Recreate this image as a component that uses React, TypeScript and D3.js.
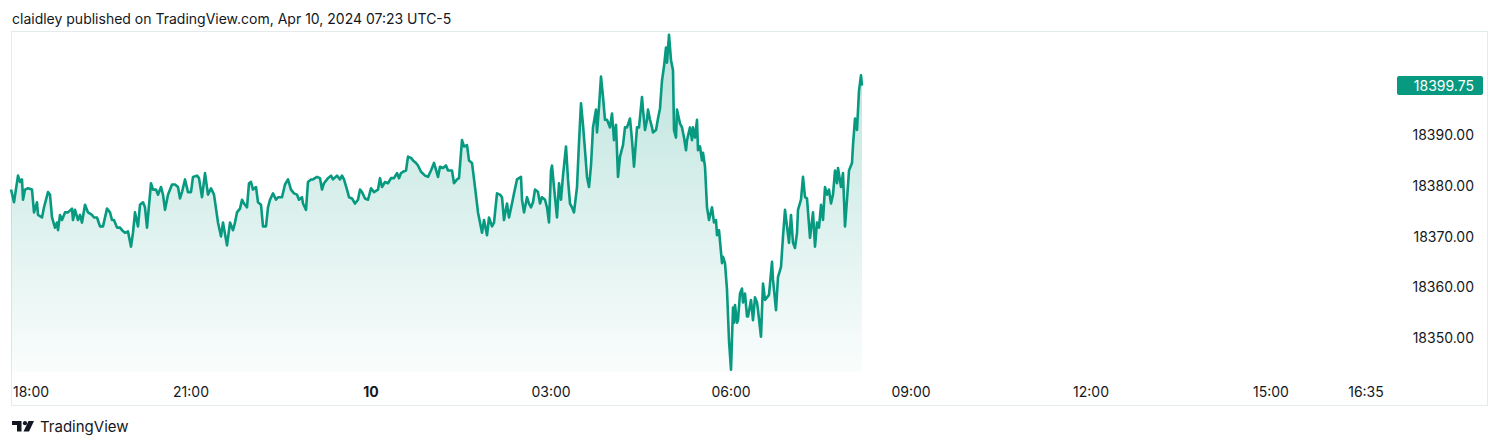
import { useEffect, useRef } from "react";
import * as d3 from "d3";

// [minutes after 18:00 Apr 9, price]
const nqPoints: [number, number][] = [
  [0, 18379.25], [3, 18376.75], [7, 18382.0], [9, 18380.75], [11, 18381.25], [12, 18377.25], [14, 18379.25],
  [17, 18379.5], [21, 18379.25], [23, 18374.75], [26, 18376.75], [27, 18374.25], [31, 18373.75], [33, 18375.75],
  [37, 18378.75], [39, 18378.25], [41, 18373.75], [44, 18371.75], [46, 18372.75], [47, 18371.25], [49, 18374.25],
  [51, 18373.25], [54, 18374.75], [57, 18374.75], [61, 18375.5], [62, 18373.25], [64, 18375.25], [67, 18373.25],
  [69, 18374.25], [71, 18372.75], [74, 18376.25], [77, 18374.75], [81, 18374.25], [83, 18373.75], [86, 18373.75],
  [89, 18372.0], [92, 18372.0], [96, 18375.5], [99, 18374.75], [101, 18373.25], [103, 18373.25], [106, 18371.75],
  [109, 18371.75], [111, 18371.25], [114, 18370.75], [117, 18371.0], [120, 18368.0], [122, 18370.75], [124, 18374.75],
  [127, 18372.0], [129, 18376.25], [132, 18376.75], [134, 18375.75], [136, 18371.75], [140, 18380.5], [142, 18379.25],
  [145, 18379.25], [147, 18378.25], [150, 18379.75], [152, 18378.25], [154, 18375.25], [157, 18378.25], [161, 18380.25],
  [164, 18380.25], [167, 18379.75], [169, 18377.5], [171, 18378.75], [174, 18381.25], [177, 18378.75], [180, 18378.75],
  [182, 18381.75], [186, 18382.0], [188, 18381.5], [191, 18377.75], [194, 18382.5], [197, 18378.25], [200, 18379.5],
  [203, 18378.25], [207, 18372.75], [210, 18370.0], [212, 18372.75], [216, 18368.25], [219, 18372.75], [222, 18371.25],
  [224, 18372.75], [226, 18374.75], [229, 18375.5], [231, 18377.25], [233, 18376.5], [236, 18375.75], [238, 18380.5],
  [240, 18380.75], [242, 18379.25], [245, 18379.75], [247, 18376.75], [250, 18376.25], [252, 18372.0], [255, 18372.0],
  [257, 18375.75], [259, 18377.25], [262, 18378.5], [265, 18377.25], [267, 18377.75], [271, 18377.75], [274, 18380.25],
  [277, 18381.25], [280, 18379.25], [283, 18378.5], [286, 18378.25], [288, 18377.25], [291, 18377.75], [292, 18376.5],
  [295, 18375.25], [297, 18380.75], [300, 18381.25], [302, 18381.25], [306, 18381.75], [309, 18381.5], [311, 18379.25],
  [313, 18380.5], [317, 18381.5], [320, 18382.0], [322, 18381.25], [326, 18382.0], [329, 18381.25], [331, 18382.0],
  [333, 18381.25], [336, 18379.25], [338, 18377.75], [341, 18377.5], [344, 18376.5], [347, 18377.25], [349, 18379.25],
  [351, 18378.75], [354, 18377.5], [357, 18377.25], [360, 18379.5], [363, 18378.75], [367, 18379.25], [369, 18381.5],
  [371, 18379.75], [374, 18380.75], [377, 18380.5], [380, 18381.5], [383, 18381.5], [386, 18382.5], [388, 18381.5],
  [390, 18382.5], [392, 18382.75], [395, 18383.0], [397, 18385.75], [400, 18385.5], [402, 18385.0], [405, 18384.5],
  [407, 18384.0], [410, 18382.75], [414, 18382.0], [417, 18381.75], [420, 18383.0], [423, 18384.5], [427, 18381.75],
  [429, 18383.75], [432, 18383.5], [435, 18384.0], [437, 18383.0], [441, 18383.0], [443, 18380.5], [446, 18381.25],
  [448, 18381.5], [451, 18389.0], [453, 18387.75], [456, 18388.0], [458, 18385.0], [461, 18384.5], [464, 18379.75],
  [467, 18374.75], [469, 18372.75], [471, 18370.75], [473, 18373.25], [476, 18370.25], [478, 18373.75], [481, 18372.0],
  [483, 18372.75], [486, 18378.5], [489, 18378.25], [491, 18377.75], [493, 18373.25], [496, 18376.5], [498, 18373.75],
  [501, 18376.5], [503, 18378.5], [506, 18381.25], [508, 18381.5], [510, 18381.75], [511, 18377.25], [513, 18374.75],
  [516, 18377.75], [518, 18376.5], [520, 18375.75], [522, 18376.75], [524, 18379.25], [527, 18378.75], [529, 18376.5],
  [531, 18377.75], [534, 18377.25], [536, 18375.75], [538, 18372.75], [540, 18383.0], [541, 18384.0], [543, 18379.75],
  [546, 18373.75], [548, 18380.5], [550, 18377.25], [552, 18382.0], [555, 18387.75], [557, 18381.25], [559, 18376.5],
  [561, 18375.75], [563, 18374.75], [566, 18379.75], [568, 18388.5], [570, 18396.25], [572, 18392.0], [574, 18387.0],
  [576, 18381.75], [578, 18379.75], [580, 18384.0], [582, 18391.5], [585, 18395.0], [586, 18390.5], [588, 18395.5],
  [590, 18401.5], [592, 18397.5], [594, 18393.0], [596, 18393.0], [599, 18391.5], [601, 18394.25], [603, 18389.0],
  [605, 18392.0], [607, 18381.75], [609, 18385.75], [612, 18388.0], [614, 18391.5], [616, 18391.5], [619, 18393.25],
  [621, 18389.0], [623, 18383.75], [626, 18391.5], [628, 18391.5], [631, 18397.5], [632, 18395.0], [634, 18391.0],
  [636, 18393.0], [637, 18395.0], [639, 18393.0], [641, 18391.5], [642, 18390.5], [645, 18391.0], [647, 18393.25],
  [649, 18395.25], [651, 18400.75], [653, 18403.5], [655, 18407.25], [656, 18404.25], [658, 18409.75], [660, 18404.75],
  [662, 18402.75], [663, 18391.0], [665, 18389.5], [666, 18395.0], [669, 18392.25], [671, 18391.5], [673, 18389.5],
  [675, 18387.0], [676, 18389.0], [679, 18391.5], [681, 18389.0], [682, 18391.5], [684, 18389.5], [686, 18393.0],
  [687, 18387.0], [689, 18387.75], [691, 18385.0], [692, 18386.5], [694, 18383.75], [696, 18375.75], [698, 18373.25],
  [701, 18375.75], [703, 18372.75], [705, 18373.25], [706, 18370.25], [708, 18371.25], [711, 18364.75], [712, 18366.0],
  [714, 18364.75], [716, 18359.5], [718, 18349.5], [720, 18343.75], [722, 18356.0], [723, 18353.0], [724, 18356.5],
  [726, 18353.0], [727, 18353.5], [729, 18358.75], [731, 18359.75], [732, 18357.0], [734, 18358.75], [736, 18354.25],
  [737, 18354.25], [740, 18357.5], [742, 18353.5], [744, 18358.0], [746, 18357.0], [747, 18355.5], [750, 18350.25],
  [752, 18360.75], [754, 18357.5], [756, 18358.0], [758, 18358.5], [761, 18365.0], [762, 18361.5], [765, 18355.5],
  [767, 18362.0], [770, 18364.0], [772, 18370.0], [774, 18375.25], [776, 18372.0], [778, 18368.75], [780, 18374.25],
  [782, 18368.75], [784, 18367.75], [786, 18370.75], [787, 18375.25], [790, 18377.25], [792, 18381.75], [794, 18377.75],
  [796, 18377.5], [799, 18369.75], [802, 18374.75], [804, 18368.0], [806, 18372.75], [808, 18371.75], [810, 18376.25],
  [812, 18373.25], [814, 18379.75], [816, 18378.25], [818, 18379.25], [820, 18376.5], [822, 18378.25], [824, 18383.0],
  [826, 18380.5], [827, 18383.5], [830, 18379.75], [832, 18382.5], [834, 18372.0], [836, 18377.25], [838, 18383.0],
  [841, 18384.5], [842, 18388.0], [844, 18393.25], [846, 18391.0], [848, 18398.75], [850, 18401.75], [851, 18399.75],
];

const timeTickMinutes = [0, 180, 360, 540, 720, 900, 1080, 1260, 1355];
const timeTickLabels = ["18:00", "21:00", "10", "03:00", "06:00", "09:00", "12:00", "15:00", "16:35"];
const priceTicks = [18350, 18360, 18370, 18380, 18390];
const lastPrice = 18399.75;
const headerText = "claidley published on TradingView.com, Apr 10, 2024 07:23 UTC-5";

const GREEN = "#089981";
const TEXT = "#131722";
const FONT = "Inter, 'Noto Sans', sans-serif";

export default function App() {
  const svgRef = useRef<SVGSVGElement | null>(null);

  useEffect(() => {
    if (!svgRef.current) return;
    const svg = d3.select(svgRef.current);
    svg.selectAll("*").remove();

    const start = new Date(2024, 3, 9, 18, 0);
    const at = (m: number) => new Date(start.getTime() + m * 60000);

    const plotTop = 31;
    const plotBottom = 372;

    const x = d3.scaleTime().domain([start, at(1378)]).range([11, 1389]);
    const y = d3.scaleLinear().domain([18343.3, 18410.5]).range([plotBottom, plotTop]);

    svg.append("rect").attr("width", 1500).attr("height", 448).attr("fill", "#fff");

    // header
    svg.append("text")
      .attr("x", 12).attr("y", 24)
      .attr("font-family", FONT).attr("font-size", 14)
      .attr("fill", TEXT)
      .text(headerText);

    // frame
    svg.append("rect")
      .attr("x", 11.5).attr("y", 31.5)
      .attr("width", 1476).attr("height", 374)
      .attr("fill", "none")
      .attr("stroke", "#e4eceb");

    // gradient fill
    const defs = svg.append("defs");
    const grad = defs.append("linearGradient")
      .attr("id", "areaGrad")
      .attr("gradientUnits", "userSpaceOnUse")
      .attr("x1", 0).attr("x2", 0)
      .attr("y1", plotTop).attr("y2", plotBottom);
    grad.append("stop").attr("offset", 0).attr("stop-color", GREEN).attr("stop-opacity", 0.28);
    grad.append("stop").attr("offset", 1).attr("stop-color", GREEN).attr("stop-opacity", 0.02);

    const area = d3.area<[number, number]>()
      .x((d) => x(at(d[0])))
      .y0(plotBottom)
      .y1((d) => y(d[1]));

    const line = d3.line<[number, number]>()
      .x((d) => x(at(d[0])))
      .y((d) => y(d[1]));

    svg.append("path").datum(nqPoints).attr("d", area).attr("fill", "url(#areaGrad)");
    svg.append("path").datum(nqPoints)
      .attr("d", line)
      .attr("fill", "none")
      .attr("stroke", GREEN)
      .attr("stroke-width", 2.6)
      .attr("stroke-linejoin", "round");

    // time axis labels
    timeTickMinutes.forEach((m, i) => {
      const px = x(at(m));
      svg.append("text")
        .attr("x", i === 0 ? px + 2 : px)
        .attr("y", 397)
        .attr("text-anchor", i === 0 ? "start" : "middle")
        .attr("font-family", FONT)
        .attr("font-size", 14)
        .attr("font-weight", timeTickLabels[i] === "10" ? 700 : 400)
        .attr("fill", TEXT)
        .text(timeTickLabels[i]);
    });

    // price axis labels
    priceTicks.forEach((v) => {
      svg.append("text")
        .attr("x", 1474)
        .attr("y", y(v))
        .attr("dy", "0.36em")
        .attr("text-anchor", "end")
        .attr("font-family", FONT)
        .attr("font-size", 14)
        .attr("fill", TEXT)
        .text(d3.format(".2f")(v));
    });

    // last price tag
    const ly = y(lastPrice);
    svg.append("rect")
      .attr("x", 1397).attr("y", ly - 9.5)
      .attr("width", 86).attr("height", 19)
      .attr("rx", 2)
      .attr("fill", GREEN);
    svg.append("text")
      .attr("x", 1474).attr("y", ly)
      .attr("dy", "0.36em")
      .attr("text-anchor", "end")
      .attr("font-family", FONT).attr("font-size", 14)
      .attr("fill", "#fff")
      .text(d3.format(".2f")(lastPrice));

    // footer logo
    const logo = svg.append("g").attr("fill", TEXT);
    logo.append("path").attr("d", "M12 421 H21.5 V431.5 H17 V425 H12 Z");
    logo.append("circle").attr("cx", 25).attr("cy", 423.2).attr("r", 2.1);
    logo.append("path").attr("d", "M28.5 421 H34 L29 431.5 H23.5 Z");
    svg.append("text")
      .attr("x", 40).attr("y", 432)
      .attr("font-family", FONT).attr("font-size", 15)
      .attr("fill", TEXT)
      .text("TradingView");
  }, []);

  return (
    <svg
      ref={svgRef}
      width={1500}
      height={448}
      style={{ position: "absolute", left: 0, top: 0, display: "block" }}
    />
  );
}
